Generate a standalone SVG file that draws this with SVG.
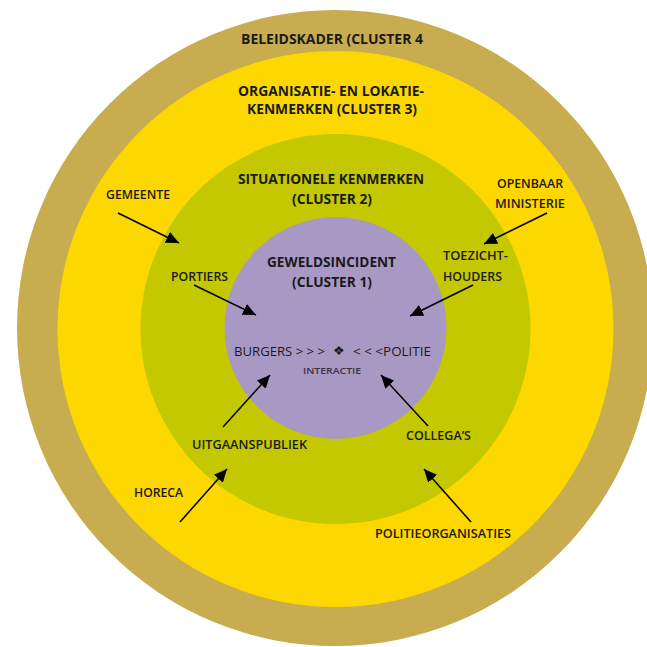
<svg xmlns="http://www.w3.org/2000/svg" width="647" height="647" viewBox="0 0 647 647">
<style>
.t{font-family:"Open Sans","Liberation Sans",sans-serif;font-weight:700;font-size:13.5px;fill:#1a1a1a}
.l{font-family:"Open Sans","Liberation Sans",sans-serif;font-weight:600;font-size:12px;fill:#1a1a1a}
.c{font-family:"Open Sans","Liberation Sans",sans-serif;font-weight:400;font-size:12.5px;fill:#1a1a1a}
.s{font-family:"Open Sans","Liberation Sans",sans-serif;font-weight:600;font-size:9px;fill:#3a3340}
.a{stroke:#000;stroke-width:1.5;fill:none;marker-end:url(#ah)}
</style>
<defs>
<marker id="ah" markerUnits="userSpaceOnUse" markerWidth="14" markerHeight="12" refX="13" refY="6" orient="auto">
<path d="M0,0 L13,6 L0,12 Z" fill="#000"/>
</marker>
</defs>
<rect width="647" height="647" fill="#fff"/>
<g id="cluster4"><circle cx="335" cy="328" r="318" fill="#C8AD50"/>
<text class="t" x="241" y="44" textLength="182" lengthAdjust="spacingAndGlyphs">BELEIDSKADER (CLUSTER 4</text></g>
<g id="cluster3"><circle cx="335.5" cy="329" r="278" fill="#FDD700"/>
<text class="t" x="238" y="96" textLength="186" lengthAdjust="spacingAndGlyphs">ORGANISATIE- EN LOKATIE-</text>
<text class="t" x="247" y="114" textLength="170" lengthAdjust="spacingAndGlyphs">KENMERKEN (CLUSTER 3)</text></g>
<g id="cluster2"><circle cx="335.5" cy="329" r="195" fill="#C3C800"/>
<text class="t" x="238" y="184" textLength="186" lengthAdjust="spacingAndGlyphs">SITUATIONELE KENMERKEN</text>
<text class="t" x="292" y="204" textLength="80" lengthAdjust="spacingAndGlyphs">(CLUSTER 2)</text></g>
<g id="cluster1"><circle cx="335.5" cy="328" r="111" fill="#A898C4"/>
<text class="t" x="267" y="267" textLength="129" lengthAdjust="spacingAndGlyphs">GEWELDSINCIDENT</text>
<text class="t" x="292" y="287" textLength="80" lengthAdjust="spacingAndGlyphs">(CLUSTER 1)</text>
<text class="c" x="234" y="356" textLength="91" lengthAdjust="spacingAndGlyphs">BURGERS &gt; &gt; &gt;</text>
<text class="c" x="339" y="355" text-anchor="middle" font-size="8">❖</text>
<text class="c" x="353" y="356" textLength="78" lengthAdjust="spacingAndGlyphs">&lt; &lt; &lt;POLITIE</text>
<text class="s" x="303" y="374" textLength="58" lengthAdjust="spacingAndGlyphs">INTERACTIE</text></g>
<g id="gemeente"><text class="l" x="106" y="199" textLength="64" lengthAdjust="spacingAndGlyphs">GEMEENTE</text></g>
<g id="portiers"><text class="l" x="171" y="281" textLength="57" lengthAdjust="spacingAndGlyphs">PORTIERS</text></g>
<g id="om"><text class="l" x="497" y="188" textLength="66" lengthAdjust="spacingAndGlyphs">OPENBAAR</text>
<text class="l" x="495" y="208" textLength="70" lengthAdjust="spacingAndGlyphs">MINISTERIE</text></g>
<g id="toezicht"><text class="l" x="443" y="260" textLength="65" lengthAdjust="spacingAndGlyphs">TOEZICHT-</text>
<text class="l" x="443" y="281" textLength="59" lengthAdjust="spacingAndGlyphs">HOUDERS</text></g>
<g id="uitgaan"><text class="l" x="192" y="449" textLength="115" lengthAdjust="spacingAndGlyphs">UITGAANSPUBLIEK</text></g>
<g id="horeca"><text class="l" x="134" y="497" textLength="49" lengthAdjust="spacingAndGlyphs">HORECA</text></g>
<g id="collegas"><text class="l" x="406" y="440" textLength="65" lengthAdjust="spacingAndGlyphs">COLLEGA’S</text></g>
<g id="politieorg"><text class="l" x="375" y="538" textLength="136" lengthAdjust="spacingAndGlyphs">POLITIEORGANISATIES</text></g>
<g id="connectors">
<line class="a" x1="118" y1="213" x2="179" y2="243"/>
<line class="a" x1="194" y1="285" x2="256" y2="315"/>
<line class="a" x1="547" y1="213" x2="484" y2="244"/>
<line class="a" x1="473" y1="285" x2="410" y2="316"/>
<line class="a" x1="223" y1="427" x2="270" y2="375"/>
<line class="a" x1="180" y1="522" x2="227" y2="469"/>
<line class="a" x1="428" y1="426" x2="381" y2="375"/>
<line class="a" x1="471" y1="522" x2="424" y2="469"/>
</g>
</svg>
